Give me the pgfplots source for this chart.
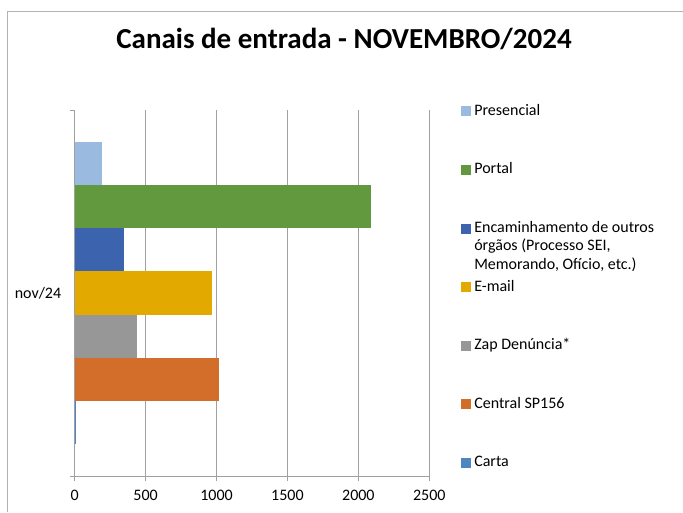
\documentclass[border=0pt]{standalone}
\usepackage{fontspec}
\setmainfont{Carlito}
\usepackage{pgfplots}
\pgfplotsset{compat=1.18}

\definecolor{cPresencial}{HTML}{9ABAE0}
\definecolor{cPortal}{HTML}{62993E}
\definecolor{cEncam}{HTML}{3C64AE}
\definecolor{cEmail}{HTML}{E2AA00}
\definecolor{cZap}{HTML}{979797}
\definecolor{cCentral}{HTML}{D26E2A}
\definecolor{cCarta}{HTML}{4E86C0}
\definecolor{axgray}{HTML}{A0A0A0}
\definecolor{gridgray}{HTML}{A0A0A0}

\begin{document}
\begin{tikzpicture}
\useasboundingbox (0,0) rectangle (683pt,512pt);
\draw[draw=gray!60, line width=1pt] (7pt,0pt) -- (7pt,500pt) -- (683pt,500pt);
\node[font=\fontsize{29}{33}\selectfont\bfseries, anchor=base] at (344pt,463pt)
  {Canais de entrada - NOVEMBRO/2024};
\begin{axis}[
    at={(74.7pt,36pt)}, anchor=south west,
    scale only axis, width=354.6pt, height=366pt,
    xbar=0pt, bar width=43.1pt,
    every axis plot post/.append style={
      legend image code/.code={\fill[##1] (0pt,-5pt) rectangle (10pt,5pt);}},
    xmin=0, xmax=2500, ymin=-1, ymax=1,
    xtick={0,500,1000,1500,2000,2500},
    ytick={-1,1}, yticklabels={},
    extra y ticks={0}, extra y tick labels={nov/24},
    extra y tick style={major tick length=0pt, grid=none,
      yticklabel style={xshift=-10pt}},
    axis x line*=bottom, axis y line*=left,
    axis line style={draw=axgray, line width=1pt},
    tick style={draw=axgray, line width=1pt},
    major tick length=5pt, tick align=outside,
    xmajorgrids, grid style={draw=gridgray, line width=1.3pt},
    tick label style={font=\fontsize{16}{18}\selectfont},
    xticklabel style={yshift=-6pt},
    /pgf/number format/assume math mode=true,
    /pgf/number format/set thousands separator={},
    reverse legend,
    legend cell align=left,
    legend style={at={(1.0894,1.0183)}, anchor=north west,
      draw=none, fill=none, inner sep=0pt, outer sep=0pt,
      row sep=42.6pt, column sep=3.3pt,
      font=\fontsize{16}{18.3}\selectfont,
      nodes={inner sep=0pt, text height=12pt, text depth=4pt}},
  ]
  \addplot[fill=cCarta, draw=none] coordinates {(10,0)};
  \addlegendentry{Carta}
  \addplot[fill=cCentral, draw=none] coordinates {(1017,0)};
  \addlegendentry{Central SP156}
  \addplot[fill=cZap, draw=none] coordinates {(439,0)};
  \addlegendentry{Zap Denúncia*}
  \addplot[fill=cEmail, draw=none] coordinates {(968,0)};
  \addlegendentry{E-mail}
  \addplot[fill=cEncam, draw=none] coordinates {(347,0)};
  \addlegendentry{\begin{tabular}[t]{@{}l@{}}Encaminhamento de outros\\órgãos (Processo SEI,\\Memorando, Ofício, etc.)\end{tabular}}
  \addplot[fill=cPortal, draw=none] coordinates {(2089,0)};
  \addlegendentry{Portal}
  \addplot[fill=cPresencial, draw=none] coordinates {(192,0)};
  \addlegendentry{Presencial}
\end{axis}
\end{tikzpicture}
\end{document}
